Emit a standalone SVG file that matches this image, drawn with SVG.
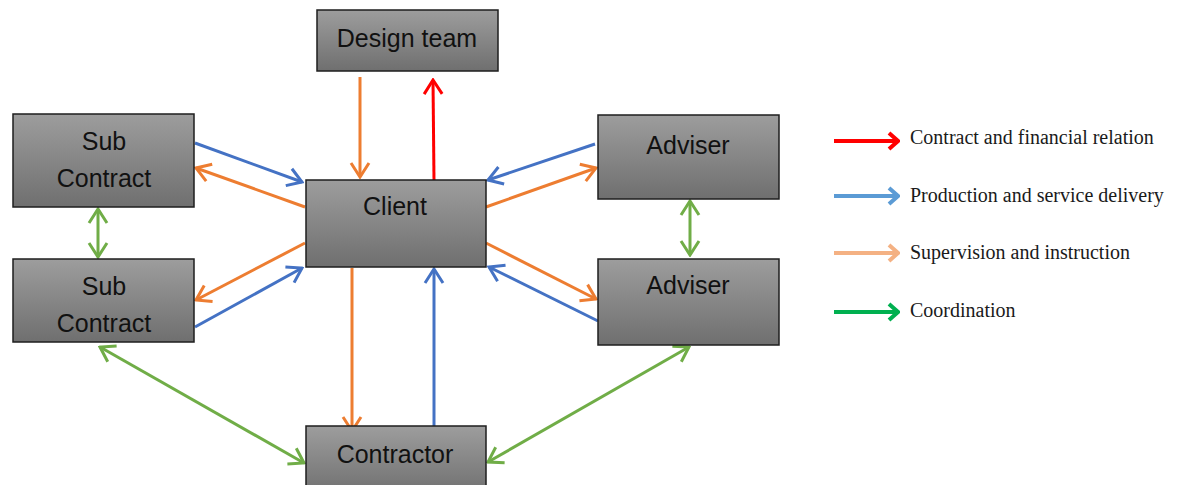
<svg xmlns="http://www.w3.org/2000/svg" width="1181" height="485" viewBox="0 0 1181 485">
  <style>
    .box { fill: url(#boxFill); stroke: #1e1e1e; stroke-width: 1.5; }
    .lbl { font-family: "Liberation Sans", Arial, sans-serif; font-size: 25px; fill: #111; text-anchor: middle; }
    .leg { font-family: "Liberation Serif", "Times New Roman", serif; font-size: 20px; fill: #1a1a1a; }
    .c { fill: none; stroke-width: 3; stroke-linecap: butt; }
    .red { stroke: #ff0000; }
    .blue { stroke: #4472c4; }
    .orange { stroke: #ed7d31; }
    .green { stroke: #70ad47; }
    .lg { fill: none; stroke-width: 4; }
  </style>
  <defs>
    <linearGradient id="boxFill" x1="0" y1="0" x2="0" y2="1">
      <stop offset="0" stop-color="#9d9d9d"/>
      <stop offset="1" stop-color="#6f6f6f"/>
    </linearGradient>
    <marker id="hRed" viewBox="-17 -11 19 22" markerWidth="19" markerHeight="22" refX="0" refY="0" markerUnits="userSpaceOnUse" orient="auto-start-reverse">
      <path d="M-14,-9 L0,0 L-14,9" fill="none" stroke="#ff0000" stroke-width="3"/>
    </marker>
    <marker id="hBlue" viewBox="-17 -11 19 22" markerWidth="19" markerHeight="22" refX="0" refY="0" markerUnits="userSpaceOnUse" orient="auto-start-reverse">
      <path d="M-14,-9 L0,0 L-14,9" fill="none" stroke="#4472c4" stroke-width="3"/>
    </marker>
    <marker id="hOrange" viewBox="-17 -11 19 22" markerWidth="19" markerHeight="22" refX="0" refY="0" markerUnits="userSpaceOnUse" orient="auto-start-reverse">
      <path d="M-14,-9 L0,0 L-14,9" fill="none" stroke="#ed7d31" stroke-width="3"/>
    </marker>
    <marker id="hGreen" viewBox="-17 -11 19 22" markerWidth="19" markerHeight="22" refX="0" refY="0" markerUnits="userSpaceOnUse" orient="auto-start-reverse">
      <path d="M-14,-9 L0,0 L-14,9" fill="none" stroke="#70ad47" stroke-width="3"/>
    </marker>
    <!-- legend heads -->
    <marker id="lRed" viewBox="-13 -10 15 20" markerWidth="15" markerHeight="20" refX="0" refY="0" markerUnits="userSpaceOnUse" orient="auto">
      <path d="M-9,-8 L0,0 L-9,8" fill="none" stroke="#ff0000" stroke-width="4"/>
    </marker>
    <marker id="lBlue" viewBox="-13 -10 15 20" markerWidth="15" markerHeight="20" refX="0" refY="0" markerUnits="userSpaceOnUse" orient="auto">
      <path d="M-9,-8 L0,0 L-9,8" fill="none" stroke="#5b9bd5" stroke-width="4"/>
    </marker>
    <marker id="lPeach" viewBox="-13 -10 15 20" markerWidth="15" markerHeight="20" refX="0" refY="0" markerUnits="userSpaceOnUse" orient="auto">
      <path d="M-9,-8 L0,0 L-9,8" fill="none" stroke="#f4b183" stroke-width="4"/>
    </marker>
    <marker id="lGreen" viewBox="-13 -10 15 20" markerWidth="15" markerHeight="20" refX="0" refY="0" markerUnits="userSpaceOnUse" orient="auto">
      <path d="M-9,-8 L0,0 L-9,8" fill="none" stroke="#00b050" stroke-width="4"/>
    </marker>
  </defs>

  <rect width="1181" height="485" fill="#ffffff"/>

  <!-- connectors -->
  <g id="connectors">
    <!-- design team / client -->
    <line class="c orange" x1="360" y1="77" x2="360" y2="177" marker-end="url(#hOrange)"/>
    <line class="c red" x1="434" y1="181" x2="433" y2="80" marker-end="url(#hRed)"/>
    <!-- left side -->
    <line class="c blue" x1="195" y1="143" x2="302" y2="182" marker-end="url(#hBlue)"/>
    <line class="c orange" x1="305" y1="207" x2="196" y2="168" marker-end="url(#hOrange)"/>
    <line class="c orange" x1="305" y1="243" x2="196" y2="300" marker-end="url(#hOrange)"/>
    <line class="c blue" x1="195" y1="327" x2="302" y2="268" marker-end="url(#hBlue)"/>
    <line class="c green" x1="98" y1="209" x2="98" y2="257" marker-start="url(#hGreen)" marker-end="url(#hGreen)"/>
    <!-- right side -->
    <line class="c blue" x1="595" y1="144" x2="488" y2="180" marker-end="url(#hBlue)"/>
    <line class="c orange" x1="486" y1="207" x2="596" y2="168" marker-end="url(#hOrange)"/>
    <line class="c orange" x1="486" y1="243" x2="596" y2="299" marker-end="url(#hOrange)"/>
    <line class="c blue" x1="598" y1="321" x2="489" y2="267" marker-end="url(#hBlue)"/>
    <line class="c green" x1="690" y1="201" x2="690" y2="255" marker-start="url(#hGreen)" marker-end="url(#hGreen)"/>
    <!-- client / contractor -->
    <line class="c orange" x1="352" y1="268" x2="352" y2="431" marker-end="url(#hOrange)"/>
    <line class="c blue" x1="434" y1="426" x2="434" y2="269" marker-end="url(#hBlue)"/>
    <!-- contractor coordination -->
    <line class="c green" x1="100" y1="347" x2="304" y2="463" marker-start="url(#hGreen)" marker-end="url(#hGreen)"/>
    <line class="c green" x1="488" y1="462" x2="689" y2="347" marker-start="url(#hGreen)" marker-end="url(#hGreen)"/>
  </g>

  <!-- nodes -->
  <g id="design-team">
    <rect class="box" x="317" y="10" width="181" height="61"/>
    <text class="lbl" x="407" y="47">Design team</text>
  </g>
  <g id="sub-contract-1">
    <rect class="box" x="13" y="114" width="181" height="93"/>
    <text class="lbl" x="104" y="150">Sub</text>
    <text class="lbl" x="104" y="187">Contract</text>
  </g>
  <g id="sub-contract-2">
    <rect class="box" x="13" y="259" width="181" height="83"/>
    <text class="lbl" x="104" y="295">Sub</text>
    <text class="lbl" x="104" y="332">Contract</text>
  </g>
  <g id="client">
    <rect class="box" x="306" y="180" width="180" height="87"/>
    <text class="lbl" x="395" y="215">Client</text>
  </g>
  <g id="adviser-1">
    <rect class="box" x="598" y="115" width="181" height="84"/>
    <text class="lbl" x="688" y="154">Adviser</text>
  </g>
  <g id="adviser-2">
    <rect class="box" x="598" y="259" width="181" height="86"/>
    <text class="lbl" x="688" y="294">Adviser</text>
  </g>
  <g id="contractor">
    <rect class="box" x="306" y="426" width="180" height="70"/>
    <text class="lbl" x="395" y="463">Contractor</text>
  </g>

  <!-- legend -->
  <g id="legend">
    <line class="lg" x1="834" y1="141" x2="898" y2="141" stroke="#ff0000" marker-end="url(#lRed)"/>
    <text class="leg" x="910" y="144">Contract and financial relation</text>
    <line class="lg" x1="834" y1="196" x2="898" y2="196" stroke="#5b9bd5" marker-end="url(#lBlue)"/>
    <text class="leg" x="910" y="202">Production and service delivery</text>
    <line class="lg" x1="834" y1="253" x2="898" y2="253" stroke="#f4b183" marker-end="url(#lPeach)"/>
    <text class="leg" x="910" y="259">Supervision and instruction</text>
    <line class="lg" x1="834" y1="312" x2="898" y2="312" stroke="#00b050" marker-end="url(#lGreen)"/>
    <text class="leg" x="910" y="317">Coordination</text>
  </g>
</svg>
